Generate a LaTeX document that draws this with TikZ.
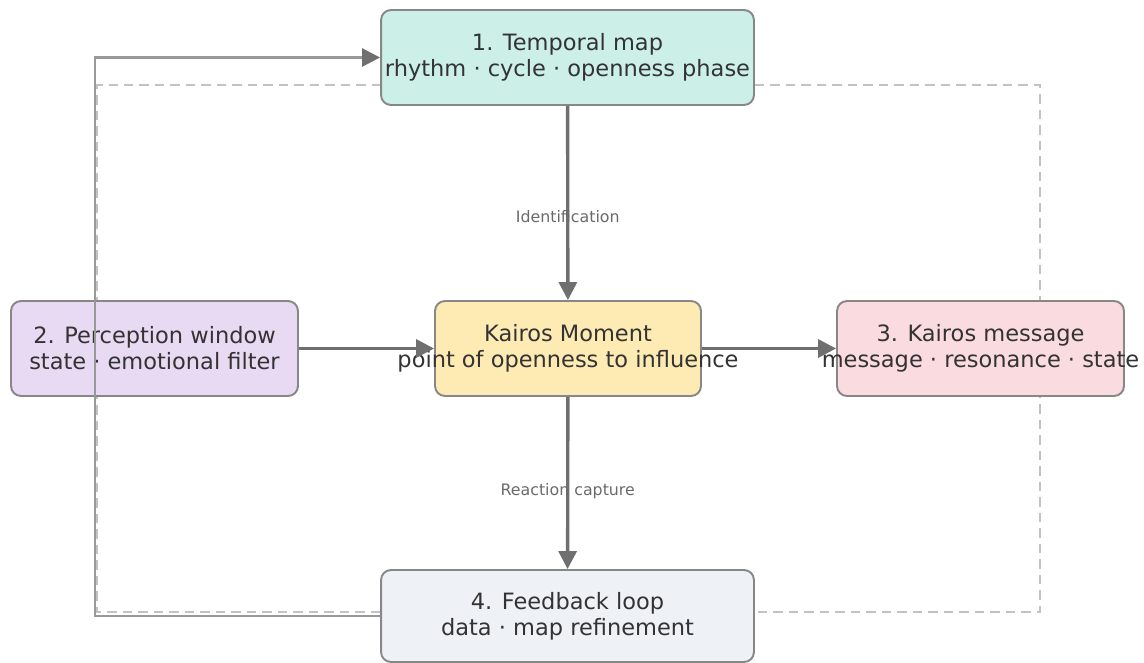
\documentclass[tikz,border=0pt]{standalone}
\usepackage{fontspec}
\setmainfont{DejaVu Sans}
\usepackage{xcolor}
\usetikzlibrary{arrows.meta, backgrounds}
\definecolor{mintfill}{HTML}{CCF0E8}
\definecolor{lilacfill}{HTML}{E7DAF2}
\definecolor{sandfill}{HTML}{FEEBB4}
\definecolor{rosefill}{HTML}{FADBE0}
\definecolor{mistfill}{HTML}{EEF2F7}
\definecolor{boxgray}{HTML}{878787}
\definecolor{arrowgray}{HTML}{6F6F6F}
\definecolor{loopgray}{HTML}{999999}
\definecolor{dashgray}{HTML}{C2C2C2}
\definecolor{textgray}{HTML}{333333}
\definecolor{labelgray}{HTML}{6A6A6A}
\newcommand{\oneline}[1]{\makebox[0pt]{#1}}
\tikzstyle{stage} = [rectangle, draw=boxgray, line width=1.1pt, rounded corners=0.2cm, align=center, minimum height=1.9cm, text=textgray, font=\fontsize{12.8}{14.8}\selectfont]
\tikzstyle{arrow} = [line width=1.9pt, draw=arrowgray, -{Triangle[length=0.36cm,width=0.36cm]}]
\tikzstyle{loopline} = [line width=1.5pt, draw=loopgray, -{Triangle[length=0.36cm,width=0.36cm,color=arrowgray]}]
\tikzstyle{dashline} = [line width=1.1pt, draw=dashgray, dash pattern=on 0.19cm off 0.12cm]
\tikzstyle{edgelabel} = [text=labelgray, font=\fontsize{9}{11}\selectfont]

\begin{document}
\begin{tikzpicture}[x=0.02cm, y=-0.02cm]
\useasboundingbox (0,0) rectangle (1144,663);
\node [stage, fill=mintfill, minimum width=7.46cm] at (567.5,57.5) (temporal)
	{\oneline{1. Temporal map}\\\oneline{rhythm · cycle · openness phase}};
\node [stage, fill=lilacfill, minimum width=5.74cm] at (154.5,348.5) (perception)
	{\oneline{2. Perception window}\\\oneline{state · emotional filter}};
\node [stage, fill=sandfill, minimum width=5.32cm] at (568,348.5) (kairos)
	{\oneline{Kairos Moment}\\\oneline{point of openness to influence}};
\node [stage, fill=rosefill, minimum width=5.74cm] at (980.5,348.5) (message)
	{\oneline{3. Kairos message}\\\oneline{message · resonance · state}};
\node [stage, fill=mistfill, minimum width=7.46cm, minimum height=1.84cm] at (567.5,616) (feedback)
	{\oneline{4. Feedback loop}\\\oneline{data · map refinement}};
% dashed return paths, behind the boxes
\begin{pgfonlayer}{background}
\draw [dashline] ([yshift=-0.55cm]temporal.east) -- ++(5.7cm,0) |- ([yshift=0.08cm]feedback.east);
\draw [dashline] ([yshift=0.08cm]feedback.west) -- ++(-5.66cm,0) |- ([yshift=-0.55cm]temporal.west);
\end{pgfonlayer}
\draw [loopline] (feedback.west) -- ++(-5.7cm,0) |- (temporal.west);
\draw [arrow] (temporal) -- node[edgelabel, pos=0.57] {Identification} (kairos);
\draw [arrow] (perception) -- (kairos);
\draw [arrow] (kairos) -- (message);
\draw [arrow] (kairos) -- node[edgelabel, pos=0.55] {Reaction capture} (feedback);
\end{tikzpicture}
\end{document}
